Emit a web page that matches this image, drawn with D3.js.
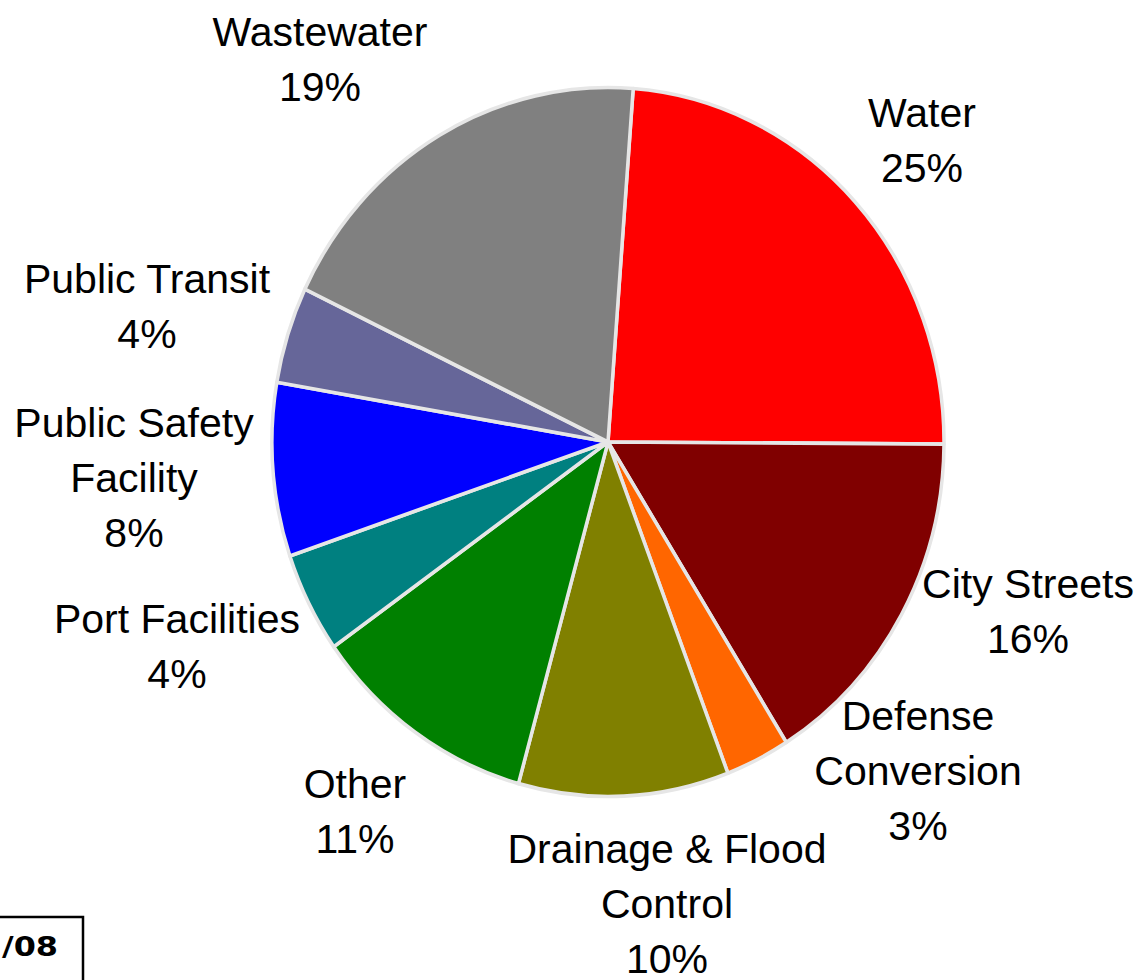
<!DOCTYPE html>
<html>
<head>
<meta charset="utf-8">
<script src="https://cdn.jsdelivr.net/npm/d3@7"></script>
<style>
  html, body { margin: 0; padding: 0; background: #fff; }
  svg { display: block; }
</style>
</head>
<body>
<div id="chart"></div>
<script>
// pie of project categories, clockwise from Water
const categories = ["Water", "City Streets", "Defense Conversion", "Drainage & Flood Control",
  "Other", "Port Facilities", "Public Safety Facility", "Public Transit", "Wastewater"];
const shares = [23.9, 16.0, 3.1, 10.1, 10.9, 4.6, 7.9, 4.4, 19.1];
const pctLabels = ["25%", "16%", "3%", "10%", "11%", "4%", "8%", "4%", "19%"];
// label lines as printed on the chart
const labelLines = [
  ["Water"], ["City Streets"], ["Defense", "Conversion"], ["Drainage & Flood", "Control"],
  ["Other"], ["Port Facilities"], ["Public Safety", "Facility"], ["Public Transit"], ["Wastewater"]
];
const colors = ["#ff0000", "#800000", "#ff6600", "#808000", "#008000", "#008080", "#0000ff", "#666699", "#808080"];

const W = 1143, H = 980;
const cx = 608, cy = 442;
const r = 336;
const squash = 1.055; // pie is a touch taller than wide
const startDeg = 4.3;

// label anchor (centre x, first baseline y)
const labelPos = [
  [922, 127], [1028, 598], [918, 730], [667, 863],
  [355, 798], [177, 633], [134, 437], [147, 293], [320, 46]
];
const lineGap = 55;

const svg = d3.select("#chart").append("svg")
  .attr("width", W).attr("height", H);

const pie = d3.pie()
  .sort(null)
  .value(d => d)
  .startAngle(startDeg * Math.PI / 180)
  .endAngle(startDeg * Math.PI / 180 + 2 * Math.PI);

const arc = d3.arc().innerRadius(0).outerRadius(r);

const g = svg.append("g")
  .attr("transform", `translate(${cx},${cy}) scale(1,${squash})`);

g.selectAll("path.slice")
  .data(pie(shares))
  .enter()
  .append("path")
  .attr("class", "slice")
  .attr("d", arc)
  .attr("fill", (d, i) => colors[i])
  .attr("stroke", "#e6e6e6")
  .attr("stroke-width", 3.5)
  .attr("stroke-linejoin", "round");

// labels
const lab = svg.append("g")
  .style("font-family", "'Liberation Sans', Arial, sans-serif")
  .style("font-size", "41px")
  .attr("fill", "#000")
  .attr("text-anchor", "middle");

categories.forEach((c, i) => {
  const lines = labelLines[i].concat([pctLabels[i]]);
  const t = lab.append("text")
    .attr("x", labelPos[i][0])
    .attr("y", labelPos[i][1]);
  lines.forEach((ln, j) => {
    t.append("tspan")
      .attr("x", labelPos[i][0])
      .attr("y", labelPos[i][1] + j * lineGap)
      .text(ln);
  });
});

// cropped note box in the corner
svg.append("path")
  .attr("d", `M0,917 H83 V${H}`)
  .attr("fill", "none")
  .attr("stroke", "#000")
  .attr("stroke-width", 2.5);

svg.append("text")
  .attr("x", 2)
  .attr("y", 956)
  .attr("textLength", 56)
  .attr("lengthAdjust", "spacingAndGlyphs")
  .style("font-family", "'DejaVu Sans', Verdana, sans-serif")
  .style("font-weight", "bold")
  .style("font-size", "26px")
  .text("/08");
</script>
</body>
</html>
